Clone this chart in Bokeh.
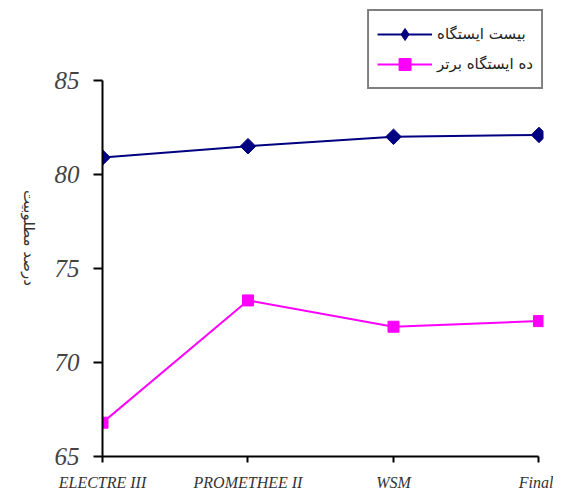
from math import pi
from bokeh.plotting import figure
from bokeh.layouts import row
from bokeh.models import Range1d, FixedTicker, Legend, LegendItem, Label
from bokeh.embed import file_html
from bokeh.resources import INLINE

# ---- data ----
categories = ["ELECTRE III", "PROMETHEE II", "WSM", "Final"]
top20_values = [80.9, 81.5, 82.0, 82.1]
top10_values = [66.8, 73.3, 71.9, 72.2]
y_ticks = [65, 70, 75, 80, 85]
series_names = ["بیست ایستگاه", "ده ایستگاه برتر"]
y_title = "درصد مطلوبیت"

xs = list(range(len(categories)))

# narrow side panel that carries the rotated y title
side_w, fig_h = 45, 493
side = figure(width=side_w, height=fig_h,
              x_range=Range1d(0, side_w), y_range=Range1d(0, fig_h),
              output_backend="svg", toolbar_location=None,
              x_axis_location=None, y_axis_location=None,
              min_border=0)
side.grid.visible = False
side.outline_line_color = None
side.add_layout(Label(x=28, y=fig_h - 252, text=y_title, angle=-pi / 2,
                      text_align="center", text_baseline="middle",
                      text_font="DejaVu Sans", text_font_size="15px",
                      text_color="#333333"))

p = figure(width=553 - side_w, height=fig_h,
           x_range=Range1d(0, 3.031), y_range=Range1d(65, 88.77),
           output_backend="svg", toolbar_location=None,
           min_border_left=102 - side_w, min_border_right=10,
           min_border_top=9, min_border_bottom=36)

p.grid.visible = False
p.outline_line_color = None
p.background_fill_color = "white"

navy = "#000080"
magenta = "#FF00FF"

l1 = p.line(xs, top20_values, line_color=navy, line_width=2)
p.scatter(xs, top20_values, marker="square", angle=pi / 4, size=11,
          fill_color=navy, line_color=navy)
l2 = p.line(xs, top10_values, line_color=magenta, line_width=2)
s2 = p.scatter(xs, top10_values, marker="square", size=11,
               fill_color=magenta, line_color=magenta)
# legend-only diamond marker (point lies outside the visible range)
d1 = p.scatter(x=[-5], y=[70], marker="diamond", size=16,
               fill_color=navy, line_color=navy)

# x axis
xa = p.xaxis[0]
xa.ticker = FixedTicker(ticks=xs)
xa.major_label_overrides = {i: c for i, c in zip(xs, categories)}
xa.bounds = (0, 3)
xa.axis_line_width = 2
xa.axis_line_color = "black"
xa.major_tick_line_width = 2
xa.major_tick_in = 0
xa.major_tick_out = 6
xa.minor_tick_line_color = None
xa.major_label_standoff = 11
xa.major_label_text_font = "Liberation Serif"
xa.major_label_text_font_style = "italic"
xa.major_label_text_font_size = "16px"
xa.major_label_text_color = "#333333"

# y axis
ya = p.yaxis[0]
ya.ticker = FixedTicker(ticks=y_ticks)
ya.bounds = (65, 85)
ya.axis_line_width = 2
ya.axis_line_color = "black"
ya.major_tick_line_width = 2
ya.major_tick_in = 0
ya.major_tick_out = 9
ya.minor_tick_line_color = None
ya.major_label_standoff = 14
ya.major_label_text_font = "Liberation Serif"
ya.major_label_text_font_style = "italic"
ya.major_label_text_font_size = "25px"
ya.major_label_text_color = "#444444"

legend = Legend(items=[LegendItem(label=series_names[0], renderers=[l1, d1]),
                       LegendItem(label=series_names[1], renderers=[l2, s2])],
                location="top_right", margin=0,
                border_line_color="black", border_line_width=2,
                background_fill_color="white", background_fill_alpha=1,
                label_text_font="DejaVu Sans", label_text_font_size="15px",
                label_text_color="#222222",
                glyph_width=55, glyph_height=30, label_height=30,
                spacing=0, padding=8, label_standoff=5)
p.add_layout(legend)

layout = row(side, p, spacing=0)
open("out.html", "w").write(file_html(layout, INLINE))
